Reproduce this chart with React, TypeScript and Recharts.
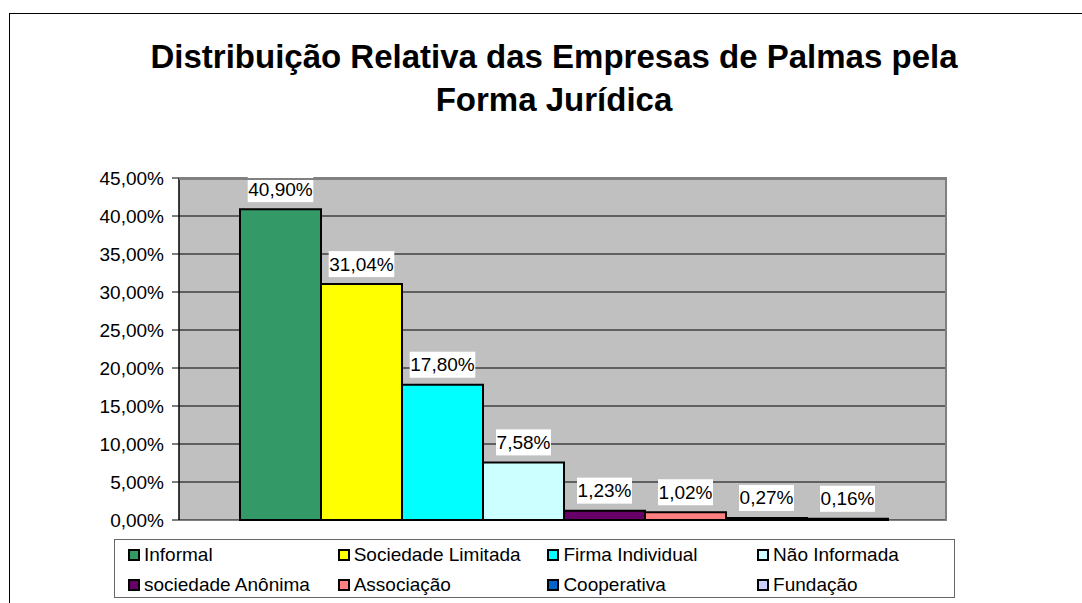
import { BarChart, Bar, XAxis, YAxis, CartesianGrid, LabelList } from "recharts";

const title = ["Distribuição Relativa das Empresas de Palmas pela", "Forma Jurídica"];
const seriesNames = [
  "Informal",
  "Sociedade Limitada",
  "Firma Individual",
  "Não Informada",
  "sociedade Anônima",
  "Associação",
  "Cooperativa",
  "Fundação",
];
const seriesValues = [40.9, 31.04, 17.8, 7.58, 1.23, 1.02, 0.27, 0.16];
const seriesColors = [
  "#339966",
  "#FFFF00",
  "#00FFFF",
  "#CCFFFF",
  "#660066",
  "#FF8080",
  "#0066CC",
  "#CCCCFF",
];
const yTicks = [0, 5, 10, 15, 20, 25, 30, 35, 40, 45];

const FONT = '"Liberation Sans", Arial, sans-serif';

const row: Record<string, number | string> = { name: "Forma Jurídica" };
seriesNames.forEach((n, i) => {
  row[`s${i}`] = seriesValues[i];
});
const data = [row];

const fmt = (v: number) => v.toFixed(2).replace(".", ",") + "%";

function BoxLabel(props: any) {
  const { x, y, width, value } = props;
  const text = fmt(Number(value));
  const w = text.length * 10.6 + 2;
  const cx = x + width / 2;
  const cy = y - 20;
  return (
    <g>
      <rect x={cx - w / 2} y={cy - 13} width={w} height={26} fill="#fff" />
      <text
        x={cx}
        y={cy}
        textAnchor="middle"
        dominantBaseline="central"
        fontSize={19}
        fontFamily={FONT}
        fill="#000"
      >
        {text}
      </text>
    </g>
  );
}

export default function App() {
  return (
    <div
      style={{
        position: "absolute",
        left: 0,
        top: 0,
        width: 1082,
        height: 603,
        overflow: "hidden",
        background: "#fff",
        fontFamily: FONT,
      }}
    >
      <div
        style={{
          position: "absolute",
          left: 9,
          top: 13,
          width: 1400,
          height: 800,
          border: "1.5px solid #000",
        }}
      />
      {title.map((t, i) => (
        <div
          key={i}
          style={{
            position: "absolute",
            left: 0,
            width: 1108,
            top: 37 + i * 43,
            textAlign: "center",
            fontWeight: "bold",
            fontSize: 33,
            lineHeight: "40px",
            color: "#000",
          }}
        >
          {t}
        </div>
      ))}
      <div style={{ position: "absolute", left: 0, top: 0 }}>
        <BarChart
          width={1082}
          height={603}
          data={data}
          margin={{ top: 178, right: 135, bottom: 83, left: 0 }}
          barCategoryGap={61}
          barGap={0}
        >
          <CartesianGrid
            vertical={false}
            stroke="#000"
            fill="#C0C0C0"
            fillOpacity={1}
          />
          <XAxis
            dataKey="name"
            height={0}
            tick={false}
            tickLine={false}
            axisLine={{ stroke: "#000", strokeWidth: 1.5 }}
          />
          <YAxis
            width={179}
            domain={[0, 45]}
            ticks={yTicks}
            tickFormatter={fmt}
            tickSize={7}
            tickMargin={8}
            interval={0}
            axisLine={{ stroke: "#000", strokeWidth: 1.5 }}
            tickLine={{ stroke: "#000" }}
            tick={{ fill: "#000", fontSize: 19, fontFamily: FONT }}
          />
          {seriesNames.map((n, i) => (
            <Bar
              key={n}
              dataKey={`s${i}`}
              name={n}
              fill={seriesColors[i]}
              stroke="#000"
              strokeWidth={2}
              isAnimationActive={false}
            >
              <LabelList dataKey={`s${i}`} content={BoxLabel} />
            </Bar>
          ))}
        </BarChart>
      </div>
      <div
        style={{
          position: "absolute",
          left: 179,
          top: 178,
          width: 768,
          height: 342,
          borderTop: "2px solid #808080",
          borderRight: "2px solid #808080",
          boxSizing: "border-box",
          pointerEvents: "none",
        }}
      />
      <div
        style={{
          position: "absolute",
          left: 114,
          top: 539,
          width: 841,
          height: 59,
          border: "1.5px solid #666",
          boxSizing: "border-box",
        }}
      >
        {seriesNames.map((n, i) => (
          <div
            key={n}
            style={{
              position: "absolute",
              left: 13 + (i % 4) * 209.7,
              top: 3 + Math.floor(i / 4) * 30,
              height: 24,
              display: "flex",
              alignItems: "center",
              whiteSpace: "nowrap",
              fontSize: 19,
              color: "#000",
            }}
          >
            <span
              style={{
                display: "inline-block",
                width: 12,
                height: 12,
                boxSizing: "border-box",
                border: "2px solid #000",
                background: seriesColors[i],
                marginRight: 4,
              }}
            />
            {n}
          </div>
        ))}
      </div>
    </div>
  );
}
